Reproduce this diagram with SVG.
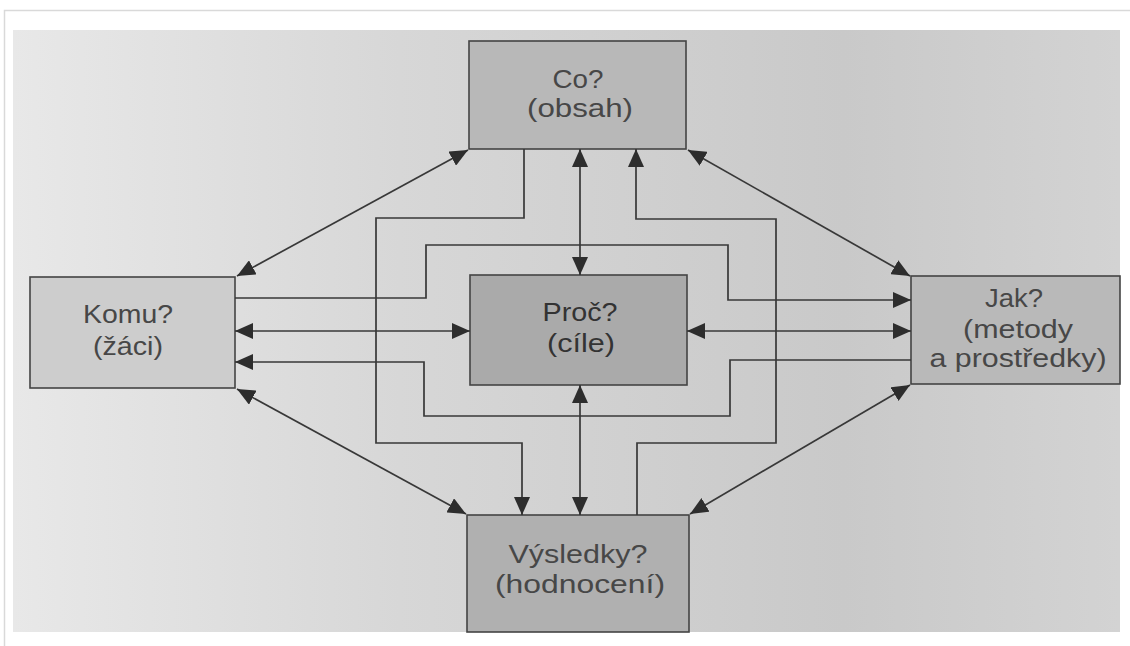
<svg xmlns="http://www.w3.org/2000/svg" width="1130" height="646" viewBox="0 0 1130 646">
  <style>
    .box { stroke: #444444; stroke-width: 1.6; }
    .lbl { font-family: "Liberation Sans", Arial, sans-serif; font-size: 25px; fill: #474747; text-anchor: middle; }
    .dark { fill: #333333; }
    .ln { fill: none; stroke: #383838; stroke-width: 1.7; }
    .dbl { marker-start: url(#ah); marker-end: url(#ah); }
    .one { marker-end: url(#ah); }
  </style>
  <defs>
    <linearGradient id="bg" x1="0" y1="0" x2="1" y2="0">
      <stop offset="0" stop-color="#e8e8e8"/>
      <stop offset="0.35" stop-color="#d7d7d7"/>
      <stop offset="0.75" stop-color="#c9c9c9"/>
      <stop offset="1" stop-color="#d3d3d3"/>
    </linearGradient>
    <marker id="ah" viewBox="0 0 18 16" refX="18" refY="8" markerWidth="18" markerHeight="16" markerUnits="userSpaceOnUse" orient="auto-start-reverse">
      <path d="M0,0 L18,8 L0,16 z" fill="#2d2d2d"/>
    </marker>
  </defs>

  <!-- card and photo -->
  <rect x="0" y="0" width="1130" height="646" fill="#ffffff"/>
  <rect x="4.5" y="10.5" width="1130" height="640" fill="#ffffff" stroke="#d9d9d9" stroke-width="1.5"/>
  <rect x="13" y="30" width="1107" height="602" fill="url(#bg)"/>

  <!-- nodes -->
  <g id="co">
    <rect class="box" x="469" y="41" width="217" height="108" fill="#b8b8b8"/>
    <text class="lbl" x="578" y="88" textLength="51" lengthAdjust="spacingAndGlyphs">Co?</text>
    <text class="lbl" x="580" y="117" textLength="106" lengthAdjust="spacingAndGlyphs">(obsah)</text>
  </g>
  <g id="komu">
    <rect class="box" x="30" y="277" width="205" height="111" fill="#cdcdcd"/>
    <text class="lbl" x="128" y="323" textLength="90" lengthAdjust="spacingAndGlyphs">Komu?</text>
    <text class="lbl" x="128" y="355" textLength="70" lengthAdjust="spacingAndGlyphs">(žáci)</text>
  </g>
  <g id="proc">
    <rect class="box" x="470" y="275" width="217" height="110" fill="#aaaaaa"/>
    <text class="lbl dark" x="580" y="321" textLength="75" lengthAdjust="spacingAndGlyphs">Proč?</text>
    <text class="lbl dark" x="581" y="352" textLength="68" lengthAdjust="spacingAndGlyphs">(cíle)</text>
  </g>
  <g id="jak">
    <rect class="box" x="911" y="276" width="209" height="108" fill="#b9b9b9"/>
    <text class="lbl" x="1014" y="307" textLength="58" lengthAdjust="spacingAndGlyphs">Jak?</text>
    <text class="lbl" x="1018" y="338" textLength="110" lengthAdjust="spacingAndGlyphs">(metody</text>
    <text class="lbl" x="1018" y="367" textLength="177" lengthAdjust="spacingAndGlyphs">a prostředky)</text>
  </g>
  <g id="vysledky">
    <rect class="box" x="467" y="515" width="222" height="117" fill="#b0b0b0"/>
    <text class="lbl" x="578" y="563" textLength="139" lengthAdjust="spacingAndGlyphs">Výsledky?</text>
    <text class="lbl" x="580" y="593" textLength="170" lengthAdjust="spacingAndGlyphs">(hodnocení)</text>
  </g>

  <!-- connectors -->
  <g id="connectors">
    <line class="ln dbl" x1="237" y1="276" x2="468" y2="150"/>
    <line class="ln dbl" x1="688" y1="150" x2="910" y2="276"/>
    <line class="ln dbl" x1="237" y1="389" x2="466" y2="514"/>
    <line class="ln dbl" x1="910" y1="385" x2="690" y2="514"/>
    <line class="ln dbl" x1="580" y1="149" x2="580" y2="275"/>
    <line class="ln dbl" x1="580" y1="385" x2="580" y2="515"/>
    <line class="ln dbl" x1="235" y1="331" x2="470" y2="331"/>
    <line class="ln dbl" x1="687" y1="331" x2="911" y2="331"/>
    <path class="ln one" d="M524,149 V218 H376 V443 H522 V515"/>
    <path class="ln one" d="M637,515 V443 H776 V219 H636 V149"/>
    <path class="ln one" d="M235,298 H426 V245 H728 V300 H911"/>
    <path class="ln one" d="M911,360 H730 V416 H424 V362 H235"/>
  </g>
</svg>
